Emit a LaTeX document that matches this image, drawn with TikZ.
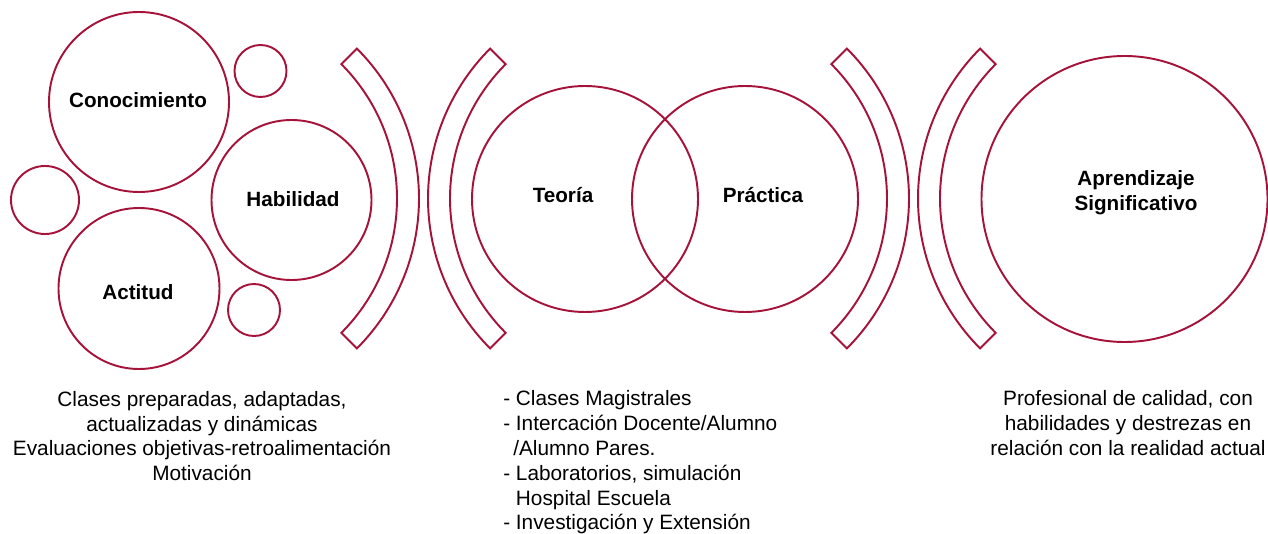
\documentclass[tikz,border=0pt]{standalone}
\usepackage{fontspec}
\setmainfont{Liberation Sans}
\definecolor{wine}{HTML}{A5123A}
\begin{document}
\begin{tikzpicture}[x=0.75pt,y=-0.75pt,
  ring/.style={circle,draw=wine,line width=1.45pt,inner sep=0pt,fill=none},
  brk/.style={draw=wine,line width=1.45pt,line join=miter},
  lbl/.style={font=\fontsize{15.5}{18.8}\selectfont\bfseries,align=center,inner sep=0pt,text=black},
  txt/.style={font=\fontsize{15.6}{18.6}\selectfont,inner sep=0pt,text=black}]
\useasboundingbox (0,0) rectangle (1268,534);
% circles
\node[ring,minimum size=180*0.75pt] (cono) at (139,102) {};
\node[ring,minimum size=52*0.75pt] (s1) at (260.5,71) {};
\node[ring,minimum size=68*0.75pt] (s2) at (45,200) {};
\node[ring,minimum size=160*0.75pt] (hab) at (291.5,200) {};
\node[ring,minimum size=161*0.75pt] (act) at (139,288.5) {};
\node[ring,minimum size=52*0.75pt] (s3) at (254,310) {};
\node[ring,minimum size=226*0.75pt] (teo) at (585,199) {};
\node[ring,minimum size=226*0.75pt] (pra) at (745,199) {};
\node[ring,minimum size=286*0.75pt] (apr) at (1124.5,199) {};
% labels
\node[lbl] (lcono) at (138,100) {Conocimiento};
\node[lbl] (lhab) at (293,199) {Habilidad};
\node[lbl] (lact) at (138,292) {Actitud};
\node[lbl] (lteo) at (563,195) {Teoría};
\node[lbl] (lpra) at (763,195) {Práctica};
\node[lbl] (lapr) at (1136,193) {Aprendizaje\\Significativo};
% brackets
\draw[brk] plot[domain=-45:45,samples=60] ({207+212*cos(\x)},{198.5+212*sin(\x)}) -- plot[domain=45:-45,samples=60] ({207+190*cos(\x)},{198.5+190*sin(\x)}) -- cycle;
\draw[brk] plot[domain=135:225,samples=60] ({640+212*cos(\x)},{198.5+212*sin(\x)}) -- plot[domain=225:135,samples=60] ({640+190*cos(\x)},{198.5+190*sin(\x)}) -- cycle;
\draw[brk] plot[domain=-45:45,samples=60] ({697+212*cos(\x)},{198.5+212*sin(\x)}) -- plot[domain=45:-45,samples=60] ({697+190*cos(\x)},{198.5+190*sin(\x)}) -- cycle;
\draw[brk] plot[domain=135:225,samples=60] ({1130+212*cos(\x)},{198.5+212*sin(\x)}) -- plot[domain=225:135,samples=60] ({1130+190*cos(\x)},{198.5+190*sin(\x)}) -- cycle;
% text blocks
\node[txt,align=center] (tleft) at (202,436) {Clases preparadas, adaptadas,\\actualizadas y dinámicas\\Evaluaciones objetivas-retroalimentación\\Motivación};
\node[txt,align=left,anchor=west] (tmid) at (503,462.5) {- Clases Magistrales\\- Intercación Docente/Alumno\\\hspace{7.5pt}/Alumno Pares.\\- Laboratorios, simulación\\\phantom{- }Hospital Escuela\\- Investigación y Extensión};
\node[txt,align=center] (tright) at (1128,423) {Profesional de calidad, con\\habilidades y destrezas en\\relación con la realidad actual};
\end{tikzpicture}
\end{document}
